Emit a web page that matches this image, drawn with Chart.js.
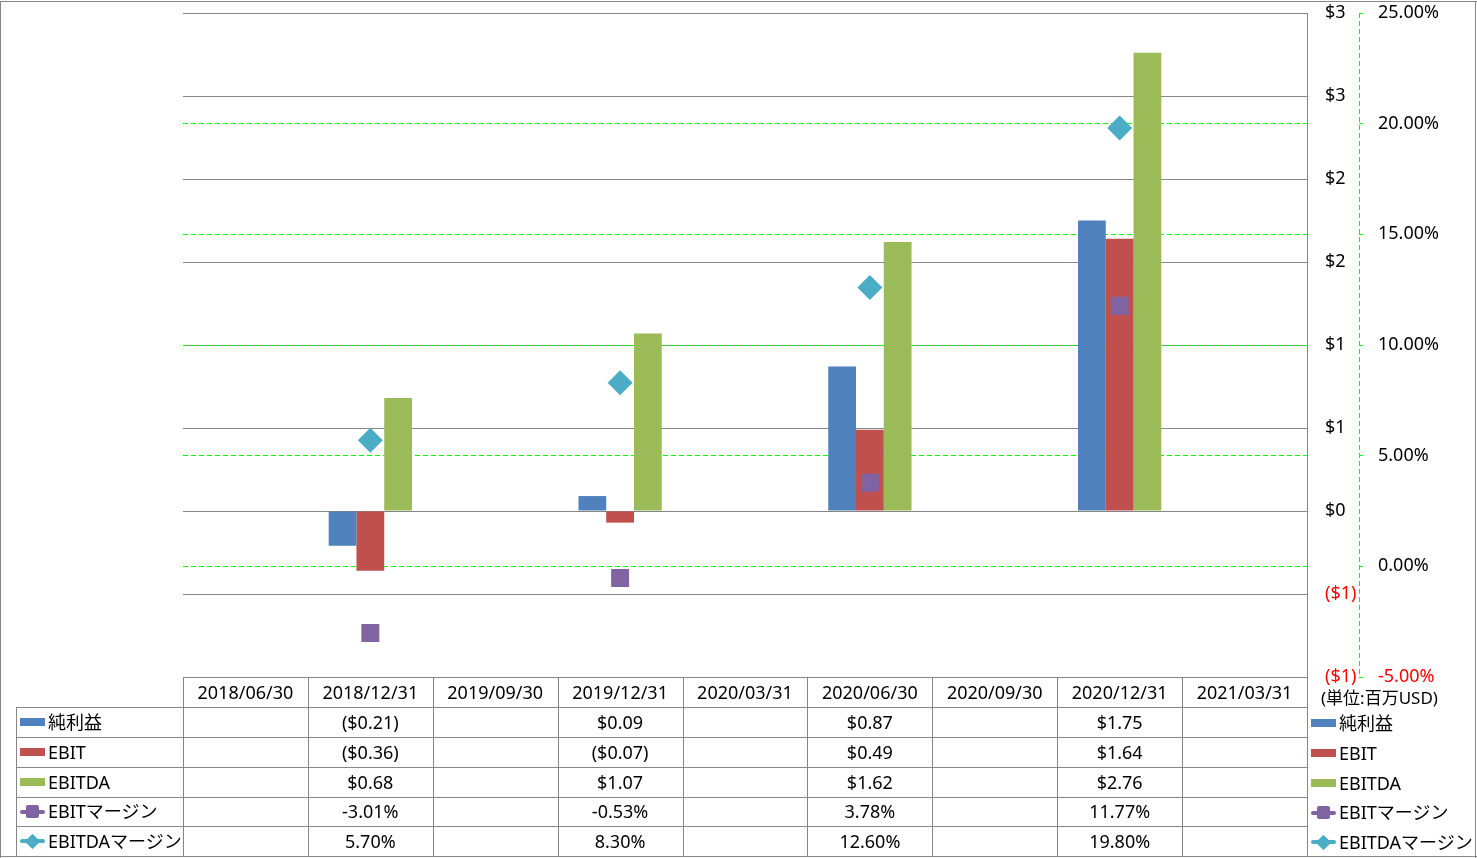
<!DOCTYPE html>
<html><head><meta charset="utf-8">
<script src="https://cdn.jsdelivr.net/npm/chart.js@4/dist/chart.umd.min.js"></script>
<style>
html,body{margin:0;padding:0;background:#fff;}
#wrap{position:relative;width:1477px;height:858px;overflow:hidden;font-family:"Noto Sans","Noto Sans CJK JP",sans-serif;font-size:18px;color:#000;background:#fff;}
canvas{position:absolute;left:0;top:0;}
.ln{position:absolute;background:#868686;}
.cell{position:absolute;text-align:center;white-space:nowrap;}
.lab{position:absolute;white-space:nowrap;}
.key{position:absolute;}
</style></head>
<body><div id="wrap"><canvas id="c" width="1477" height="858"></canvas><div id="tbl"></div></div>
<script>
const categories = ['2018/06/30','2018/12/31','2019/09/30','2019/12/31','2020/03/31','2020/06/30','2020/09/30','2020/12/31','2021/03/31'];
const netIncome    = [null,-0.21,null, 0.09,null,0.87,null,1.75,null];
const ebit         = [null,-0.36,null,-0.07,null,0.49,null,1.64,null];
const ebitda       = [null, 0.68,null, 1.07,null,1.62,null,2.76,null];
const ebitMargin   = [null,-3.01,null,-0.53,null,3.78,null,11.77,null];
const ebitdaMargin = [null, 5.70,null, 8.30,null,12.60,null,19.80,null];
const seriesNames = ['純利益','EBIT','EBITDA','EBITマージン','EBITDAマージン'];
const unitLabel = '(単位:百万USD)';

const COLORS = ['#4F81BD','#C0504D','#9BBB59','#8064A2','#4BACC6'];
const GRID = '#868686';
const GREEN = '#00FF00';
const FONT = '"Noto Sans","Noto Sans CJK JP",sans-serif';

function axisDollar(v){ const r = Math.round(Math.abs(v)+1e-9); return v < -1e-9 ? '($'+r+')' : '$'+r; }
function axisPct(v){ let s=(Math.abs(v)<1e-9?0:v).toFixed(2); return s+'%'; }
function fmtMoney(v){ return v<0 ? '($'+Math.abs(v).toFixed(2)+')' : '$'+v.toFixed(2); }
function fmtPct(v){ return v.toFixed(2)+'%'; }

const pctAxisLine = {
  id:'pctAxisLine',
  afterDraw(chart){
    const s = chart.scales.y1, c = chart.ctx;
    c.save(); c.strokeStyle = GREEN; c.lineWidth = 1; c.setLineDash([5,3]);
    const x = Math.round(s.left)+0.5;
    c.beginPath(); c.moveTo(x, s.top); c.lineTo(x, s.bottom+0.5); c.stroke();
    c.restore();
  }
};
function fixAxis(w){ return s=>{ s.width=w; s.paddingTop=0; s.paddingBottom=0; s.paddingLeft=0; s.paddingRight=0; }; }

const chart = new Chart(document.getElementById('c'), {
  type:'bar',
  data:{
    labels:categories,
    datasets:[
      {type:'bar', label:seriesNames[0], data:netIncome, backgroundColor:COLORS[0], yAxisID:'y', order:3},
      {type:'bar', label:seriesNames[1], data:ebit, backgroundColor:COLORS[1], yAxisID:'y', order:3},
      {type:'bar', label:seriesNames[2], data:ebitda, backgroundColor:COLORS[2], yAxisID:'y', order:3},
      {type:'line', label:seriesNames[3], data:ebitMargin, yAxisID:'y1', showLine:false, pointStyle:'rect', pointRadius:12.7, pointBorderWidth:0, backgroundColor:COLORS[3], borderColor:COLORS[3], order:1},
      {type:'line', label:seriesNames[4], data:ebitdaMargin, yAxisID:'y1', showLine:false, pointStyle:'rectRot', pointRadius:12.5, pointBorderWidth:0, backgroundColor:COLORS[4], borderColor:COLORS[4], order:0}
    ]
  },
  options:{
    responsive:false, animation:false, devicePixelRatio:1,
    layout:{padding:{left:183, top:13, right:18, bottom:181}},
    plugins:{legend:{display:false}, tooltip:{enabled:false}},
    datasets:{bar:{categoryPercentage:0.667, barPercentage:1.0}},
    scales:{
      x:{display:false, grid:{display:false}},
      y:{position:'right', weight:0, min:-1, max:3,
         ticks:{stepSize:0.5, padding:18, color:c=>c.tick.value<0?'#FF0000':'#000000', font:{family:FONT,size:18}, callback:v=>axisDollar(v)},
         grid:{color:GRID, drawTicks:false, lineWidth:1},
         border:{display:true, color:GRID, width:1},
         afterFit:fixAxis(52)},
      y1:{position:'right', weight:1, min:-5, max:25,
         ticks:{stepSize:5, padding:15, color:c=>c.tick.value<0?'#FF0000':'#000000', font:{family:FONT,size:18}, callback:v=>axisPct(v)},
         grid:{color:c=>(c.tick && (c.tick.value<=-5 || c.tick.value>=25))?'rgba(0,0,0,0)':GREEN, tickColor:GREEN, tickLength:4, drawTicks:true, lineWidth:1},
         border:{display:false, dash:[5,3]},
         afterFit:fixAxis(100)}
    }
  },
  plugins:[pctAxisLine]
});

// ---- data table & legends (HTML text) ----
(function(){
  const tbl = document.getElementById('tbl');
  const ca = chart.chartArea;
  const L = Math.round(ca.left), R = Math.round(ca.right), T = Math.round(ca.bottom);
  const n = categories.length;
  const colW = (R-L)/n;
  const hdrH = 30;
  const rowTops = [707,737,767,797,826];
  const bottom = 856;
  const leftX = 16;
  function line(x,y,w,h){ const d=document.createElement('div'); d.className='ln'; d.style.left=x+'px'; d.style.top=y+'px'; d.style.width=w+'px'; d.style.height=h+'px'; tbl.appendChild(d); }
  function text(cls,x,y,w,h,t,extra){ const d=document.createElement('div'); d.className=cls; d.style.left=x+'px'; d.style.top=y+'px'; if(w!=null) d.style.width=w+'px'; d.style.height=h+'px'; d.style.lineHeight=h+'px'; d.textContent=t; if(extra) Object.assign(d.style,extra); tbl.appendChild(d); return d; }
  // outer border
  line(0,1,1477,1); line(0,1,1,857); line(1475,1,1,857); line(0,856,1477,1);
  // header top
  line(L,T,R-L,1);
  // column lines
  for(let i=0;i<=n;i++){ const x=Math.round(L+i*colW); line(x,T,1,bottom-T); }
  // left column line
  line(leftX,rowTops[0],1,bottom-rowTops[0]);
  // row lines
  rowTops.forEach(y=>line(leftX,y,R-leftX,1));
  // header labels
  categories.forEach((c,i)=>text('cell',L+i*colW,T,colW,hdrH,c));
  // values
  const rows = [netIncome.map(v=>v==null?'':fmtMoney(v)), ebit.map(v=>v==null?'':fmtMoney(v)), ebitda.map(v=>v==null?'':fmtMoney(v)), ebitMargin.map(v=>v==null?'':fmtPct(v)), ebitdaMargin.map(v=>v==null?'':fmtPct(v))];
  const heights = rowTops.map((y,i)=>(i<rowTops.length-1?rowTops[i+1]:bottom)-y);
  rows.forEach((r,ri)=>{ r.forEach((t,ci)=>{ if(t) text('cell',L+ci*colW,rowTops[ri],colW,heights[ri],t); }); });
  // legend keys
  const keyTypes=['bar','bar','bar','rect','rectRot'];
  function key(x,cy,ti){
    const col=COLORS[ti];
    if(keyTypes[ti]==='bar'){
      const d=document.createElement('div'); d.className='key'; Object.assign(d.style,{left:x+'px',top:(cy-4)+'px',width:'25px',height:'8px',background:col}); tbl.appendChild(d);
    } else {
      const l=document.createElement('div'); l.className='key'; Object.assign(l.style,{left:x+'px',top:(cy-2)+'px',width:'25px',height:'4px',background:col,borderRadius:'2px'}); tbl.appendChild(l);
      const m=document.createElement('div'); m.className='key';
      if(keyTypes[ti]==='rect'){ Object.assign(m.style,{left:(x+6)+'px',top:(cy-6.5)+'px',width:'13px',height:'13px',background:col,borderRadius:'2px'}); }
      else { Object.assign(m.style,{left:(x+7)+'px',top:(cy-5.5)+'px',width:'11px',height:'11px',background:col,transform:'rotate(45deg)',borderRadius:'1px'}); }
      tbl.appendChild(m);
    }
  }
  seriesNames.forEach((s,i)=>{
    const y=rowTops[i], h=heights[i], cy=y+h/2;
    key(20,cy,i);
    text('lab',48,y,null,h,s);
    key(1311,cy+1,i);
    text('lab',1339,y+1,null,h,s);
  });
  // unit label
  text('lab',1321,686,null,24,unitLabel,{fontSize:'17px'});
})();
</script>
</body></html>
